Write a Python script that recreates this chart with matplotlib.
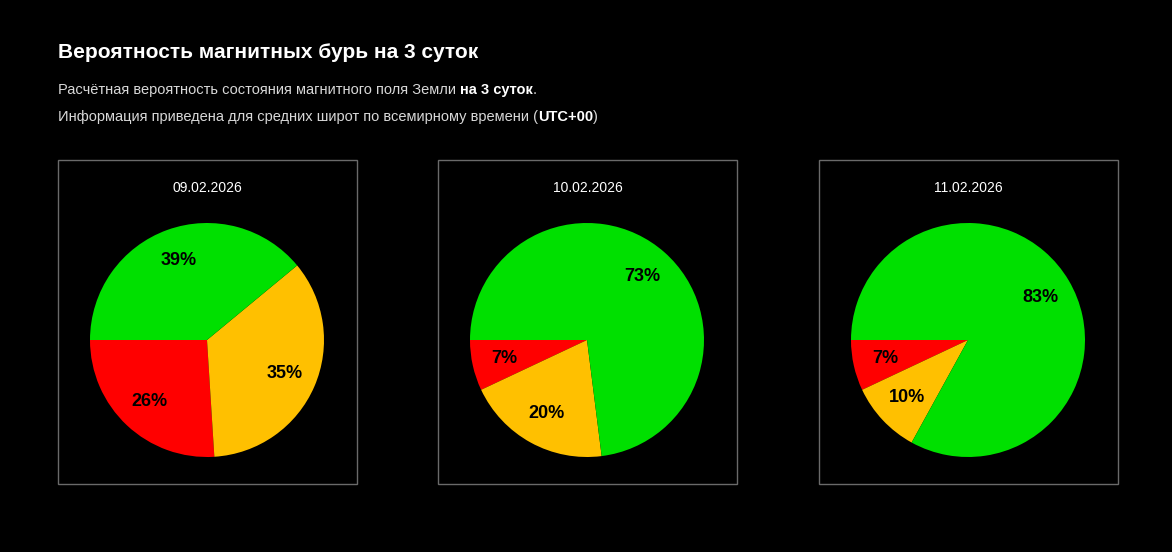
import matplotlib
matplotlib.use("Agg")
import matplotlib.pyplot as plt
from matplotlib.patches import Rectangle

plt.rcParams['font.family'] = ['Liberation Sans', 'DejaVu Sans']

dates = ["09.02.2026", "10.02.2026", "11.02.2026"]
labels = ["red", "yellow", "green"]
values = [[26, 35, 39], [7, 20, 73], [7, 10, 83]]
colors = ["#ff0000", "#ffc000", "#00e000"]

W, H = 1172, 552
fig = plt.figure(figsize=(W/100, H/100), dpi=100, facecolor="black")

def px(x, y):
    return x / W, 1 - y / H

fig.text(*px(58, 52), "Вероятность магнитных бурь на 3 суток", color="white",
         fontsize=15, fontweight="bold", va="center", ha="left")

fig.canvas.draw()
r = fig.canvas.get_renderer()

def rich(y, parts):
    x = 58
    for s, b in parts:
        t = fig.text(*px(x, y), s, color="white" if b else "#d8d8d8", fontsize=10.5,
                     fontweight="bold" if b else "normal", va="center", ha="left")
        bb = t.get_window_extent(renderer=r)
        x += bb.width

rich(90, [("Расчётная вероятность состояния магнитного поля Земли ", False), ("на 3 суток", True), (".", False)])
rich(117, [("Информация приведена для средних широт по всемирному времени (", False), ("UTC+00", True), (")", False)])

box_x = [58, 438, 819]
for i in range(3):
    bx = box_x[i]
    fig.patches.append(Rectangle(px(bx, 484), 299 / W, 324 / H, transform=fig.transFigure,
                                 fill=False, edgecolor="#6a6a6a", linewidth=1))
    fig.text(*px(bx + 149.5, 188), dates[i], color="white", fontsize=10, ha="center", va="center")
    cx, cy, rad = bx + 149, 340, 117
    ax = fig.add_axes([(cx - rad) / W, 1 - (cy + rad) / H, 2 * rad / W, 2 * rad / H])
    ax.set_facecolor("black")
    wedges, texts, autotexts = ax.pie(values[i], colors=colors, startangle=180, counterclock=True,
                                      autopct="%d%%", pctdistance=0.72, radius=1,
                                      textprops=dict(color="black", fontsize=13, fontweight="bold"))
    ax.set_xlim(-1, 1); ax.set_ylim(-1, 1)
    ax.set_aspect("equal")
    ax.axis("off")

fig.savefig("out.png", dpi=100, facecolor="black")
